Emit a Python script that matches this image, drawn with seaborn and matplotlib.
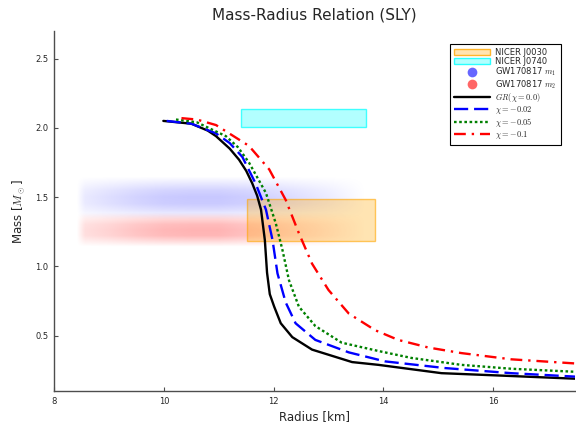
import numpy as np
import pandas as pd
import matplotlib
matplotlib.use("Agg")
import matplotlib.pyplot as plt
import seaborn as sns
from matplotlib.patches import Patch, Rectangle
from matplotlib.lines import Line2D

# === Mass-radius curves ===
r_gr = [9.99, 10.50, 10.80, 10.95, 11.20, 11.37, 11.50, 11.61, 11.70, 11.77, 11.84, 11.88, 11.93, 12.01, 12.13, 12.34, 12.70, 13.43, 13.91, 15.06, 16.30, 17.50]
m_gr = [2.05, 2.03, 1.98, 1.94, 1.85, 1.77, 1.69, 1.60, 1.51, 1.41, 1.19, 0.955, 0.80, 0.71, 0.59, 0.49, 0.40, 0.31, 0.29, 0.23, 0.21, 0.19]

r_002 = [10.05, 10.50, 10.95, 11.20, 11.43, 11.67, 11.86, 11.98, 12.07, 12.22, 12.40, 12.76, 13.37, 14.03, 15.12, 16.33, 17.50]
m_002 = [2.05, 2.03, 1.96, 1.89, 1.79, 1.60, 1.41, 1.19, 0.95, 0.74, 0.59, 0.47, 0.38, 0.315, 0.267, 0.23, 0.205]

r_005 = [10.22, 10.60, 11.13, 11.35, 11.55, 11.86, 12.04, 12.16, 12.28, 12.46, 12.76, 13.24, 13.91, 14.51, 15.42, 16.33, 17.50]
m_005 = [2.06, 2.04, 1.94, 1.86, 1.75, 1.53, 1.31, 1.12, 0.90, 0.71, 0.57, 0.45, 0.39, 0.34, 0.29, 0.262, 0.24]

r_01 = [10.32, 10.60, 10.95, 11.55, 11.92, 12.22, 12.46, 12.70, 13.00, 13.37, 13.85, 14.27, 14.82, 15.42, 16.33, 17.50]
m_01 = [2.07, 2.06, 2.02, 1.87, 1.70, 1.48, 1.24, 1.02, 0.83, 0.66, 0.54, 0.47, 0.415, 0.375, 0.33, 0.30]

# === NICER constraints (R range, M range) ===
j0030_r = [11.52, 13.85]
j0030_m = [1.18, 1.49]
j0740_r = [11.41, 13.69]
j0740_m = [2.006, 2.139]

# === GW170817 cloud profiles (relative density) ===
cloud_r = [8.40, 8.55, 9.0, 9.5, 10.0, 10.5, 11.0, 11.5, 12.0, 12.5, 13.0, 13.5, 13.7]
m1_r_dens = [0.0, 0.40, 0.60, 0.80, 0.95, 1.00, 1.00, 0.90, 0.75, 0.55, 0.35, 0.10, 0.0]
m2_r_dens = [0.0, 0.45, 0.60, 0.80, 0.95, 1.00, 1.00, 0.85, 0.70, 0.50, 0.30, 0.08, 0.0]
m1_mass = [1.34, 1.40, 1.45, 1.50, 1.55, 1.60, 1.65]
m1_m_dens = [0.05, 0.60, 0.95, 1.00, 0.80, 0.40, 0.00]
m2_mass = [1.14, 1.18, 1.22, 1.26, 1.30, 1.34, 1.38]
m2_m_dens = [0.00, 0.50, 0.95, 1.00, 0.90, 0.55, 0.05]

curves = [
    (r_gr, m_gr, "black", "-", r"$GR(\chi=0.0)$"),
    (r_002, m_002, "blue", (0, (6, 2.5)), r"$\chi=-0.02$"),
    (r_005, m_005, "green", (0, (1.1, 1.1)), r"$\chi=-0.05$"),
    (r_01, m_01, "red", (0, (5, 2.5, 1, 2.5)), r"$\chi=-0.1$"),
]

sns.set_style("ticks")
plt.rcParams["font.family"] = ["DejaVu Sans"]
plt.rcParams["mathtext.fontset"] = "cm"

fig = plt.figure(figsize=(5.76, 4.28), dpi=100)
ax = fig.add_axes([0.094, 0.086, 0.905, 0.842])


def draw_cloud(ax, r_dens, mass, m_dens, color, amax):
    rr = np.linspace(cloud_r[0], cloud_r[-1], 200)
    mm = np.linspace(mass[0], mass[-1], 60)
    dens = np.outer(np.interp(mm, mass, m_dens), np.interp(rr, cloud_r, r_dens))
    img = np.zeros(dens.shape + (4,))
    img[..., :3] = matplotlib.colors.to_rgb(color)
    img[..., 3] = dens * amax
    ax.imshow(img, extent=[cloud_r[0], cloud_r[-1], mass[0], mass[-1]],
              origin="lower", aspect="auto", interpolation="bilinear", zorder=1)


draw_cloud(ax, m1_r_dens, m1_mass, m1_m_dens, "blue", 0.22)
draw_cloud(ax, m2_r_dens, m2_mass, m2_m_dens, "red", 0.30)

ax.add_patch(Rectangle((j0030_r[0], j0030_m[0]), j0030_r[1] - j0030_r[0], j0030_m[1] - j0030_m[0],
                       facecolor=(1.0, 0.65, 0.0, 0.3), edgecolor=(1.0, 0.65, 0.0, 0.6), lw=1, zorder=2))
ax.add_patch(Rectangle((j0740_r[0], j0740_m[0]), j0740_r[1] - j0740_r[0], j0740_m[1] - j0740_m[0],
                       facecolor=(0.0, 1.0, 1.0, 0.3), edgecolor=(0.0, 1.0, 1.0, 0.7), lw=1, zorder=2))

for r, m, c, ls, lab in curves:
    df = pd.DataFrame({"R": r, "M": m})
    sns.lineplot(data=df, x="R", y="M", sort=False, estimator=None, color=c,
                 linestyle=ls, lw=1.7, ax=ax, zorder=3)

ax.set_xlim(8, 17.5)
ax.set_ylim(0.1, 2.7)
ax.set_xticks([8, 10, 12, 14, 16])
ax.set_yticks([0.5, 1.0, 1.5, 2.0, 2.5])
ax.tick_params(direction="in", length=3, width=0.8, color="0.3", labelsize=6, pad=4)
for s in ["top", "right"]:
    ax.spines[s].set_visible(False)
for s in ["left", "bottom"]:
    ax.spines[s].set_color("0.3")
    ax.spines[s].set_linewidth(1.0)

ax.set_xlabel("Radius [km]", fontsize=8.5, labelpad=3)
ax.set_ylabel(r"Mass [$M_\odot$]", fontsize=8.5, labelpad=6)
ax.set_title("Mass-Radius Relation (SLY)", fontsize=11, pad=8)

handles = [
    Patch(facecolor=(1.0, 0.65, 0.0, 0.3), edgecolor=(1.0, 0.65, 0.0, 0.8), label="NICER J0030"),
    Patch(facecolor=(0.0, 1.0, 1.0, 0.3), edgecolor=(0.0, 1.0, 1.0, 0.8), label="NICER J0740"),
    Line2D([], [], ls="none", marker="o", ms=7, mfc=(0.4, 0.4, 1.0), mec="none", label=r"GW170817 $m_1$"),
    Line2D([], [], ls="none", marker="o", ms=7, mfc=(1.0, 0.4, 0.4), mec="none", label=r"GW170817 $m_2$"),
]
for r, m, c, ls, lab in curves:
    handles.append(Line2D([], [], color=c, ls=ls, lw=1.7, label=lab))

leg = ax.legend(handles=handles, loc="upper right", bbox_to_anchor=(0.972, 0.964), fontsize=6,
                frameon=True, fancybox=False, framealpha=1, edgecolor="black",
                handlelength=4.3, handleheight=0.8, handletextpad=0.7, labelspacing=0.0,
                borderpad=0.5, borderaxespad=0.0)
leg.get_frame().set_linewidth(0.8)

fig.savefig("out.png", dpi=100)
